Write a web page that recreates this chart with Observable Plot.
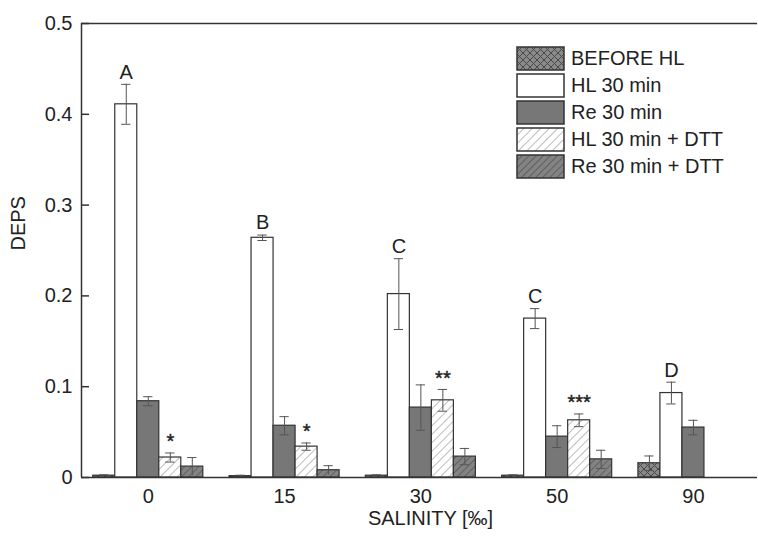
<!DOCTYPE html>
<html><head><meta charset="utf-8">
<script src="https://cdn.jsdelivr.net/npm/d3@7"></script>
<script src="https://cdn.jsdelivr.net/npm/@observablehq/plot@0.6"></script>
<style>
body{margin:0;background:#fff;}
#wrap{position:relative;width:758px;height:537px;font-family:"Liberation Sans",Arial,sans-serif;}
#legend{position:absolute;left:516px;top:45px;}
.row{display:flex;align-items:center;height:27px;font-size:20px;color:#222;white-space:nowrap;}
.row svg{margin-right:6px;display:block;}
</style></head><body>
<svg width="0" height="0" style="position:absolute">
<defs>
<pattern id="cross" patternUnits="userSpaceOnUse" width="7" height="7">
<rect width="7" height="7" fill="#8a8a8a"/>
<path d="M0,0L7,7M7,0L0,7" stroke="#4a4a4a" stroke-width="1"/>
</pattern>
<pattern id="hatchLight" patternUnits="userSpaceOnUse" width="6" height="6" patternTransform="rotate(45)">
<rect width="6" height="6" fill="#fff"/>
<line x1="0" y1="0" x2="0" y2="6" stroke="#9a9a9a" stroke-width="1.3"/>
</pattern>
<pattern id="hatchDark" patternUnits="userSpaceOnUse" width="5" height="5" patternTransform="rotate(45)">
<rect width="5" height="5" fill="#838383"/>
<line x1="0" y1="0" x2="0" y2="5" stroke="#4f4f4f" stroke-width="1.3"/>
</pattern>
</defs>
</svg>
<div id="wrap"><div id="legend"></div></div>
<script>
const salinity = ["0", "15", "30", "50", "90"];
const series = ["BEFORE HL", "HL 30 min", "Re 30 min", "HL 30 min + DTT", "Re 30 min + DTT"];
const beforeHL    = [0.002, 0.0015, 0.002, 0.002, 0.0157];
const beforeHLErr = [0.001, 0.001, 0.001, 0.001, 0.008];
const hl30        = [0.411, 0.264, 0.202, 0.175, 0.093];
const hl30Err     = [0.022, 0.003, 0.039, 0.011, 0.012];
const re30        = [0.084, 0.057, 0.077, 0.045, 0.055];
const re30Err     = [0.005, 0.010, 0.025, 0.012, 0.008];
const hlDtt       = [0.022, 0.034, 0.085, 0.063, null];
const hlDttErr    = [0.005, 0.004, 0.012, 0.007, null];
const reDtt       = [0.012, 0.008, 0.023, 0.020, null];
const reDttErr    = [0.010, 0.005, 0.009, 0.010, null];
const letters = ["A", "B", "C", "C", "D"];
const stars = ["*", "*", "**", "***", ""];
const yTicks = [0, 0.1, 0.2, 0.3, 0.4, 0.5];

const values = [beforeHL, hl30, re30, hlDtt, reDtt];
const errors = [beforeHLErr, hl30Err, re30Err, hlDttErr, reDttErr];
const fills = ["url(#cross)", "#ffffff", "#777777", "url(#hatchLight)", "url(#hatchDark)"];

const bw = 0.1615;      // bar width in group units
const cap = 0.034;      // half cap width
const xDomain = [-0.49, 4.47];

const rows = [];
salinity.forEach((g, gi) => series.forEach((s, si) => {
  const v = values[si][gi];
  if (v == null) return;
  rows.push({g: gi, s: si, v, e: errors[si][gi], c: gi + (si - 2) * bw});
}));

const barMarks = series.map((s, si) => Plot.rect(rows.filter(r => r.s === si), {
  x1: r => r.c - bw / 2, x2: r => r.c + bw / 2, y1: 0, y2: "v",
  fill: fills[si], stroke: "#333", strokeWidth: 1.2
}));

const hlRows = rows.filter(r => r.s === 1);
const dttRows = rows.filter(r => r.s === 3);

const plot = Plot.plot({
  width: 758, height: 537,
  marginLeft: 81, marginRight: 1, marginTop: 23, marginBottom: 60,
  style: {fontFamily: "Liberation Sans, Arial, sans-serif", fontSize: "20px", color: "#222", background: "transparent"},
  x: {domain: xDomain, axis: null},
  y: {domain: [0, 0.5], axis: null},
  marks: [
    ...barMarks,
    Plot.ruleX(rows, {x: "c", y1: r => Math.max(0, r.v - r.e), y2: r => r.v + r.e, stroke: "#555", strokeWidth: 1}),
    Plot.ruleY(rows, {y: r => r.v + r.e, x1: r => r.c - cap, x2: r => r.c + cap, stroke: "#555", strokeWidth: 1}),
    Plot.ruleY(rows.filter(r => r.v - r.e > 0.004), {y: r => r.v - r.e, x1: r => r.c - cap, x2: r => r.c + cap, stroke: "#555", strokeWidth: 1}),
    Plot.text(hlRows, {x: "c", y: r => r.v + r.e, text: r => letters[r.g], dy: -12, fontSize: 20, fill: "#222"}),
    Plot.text(dttRows, {x: "c", y: r => r.v + r.e, text: r => stars[r.g], dy: -11, fontSize: 20, fill: "#222", stroke: "#222", strokeWidth: 0.4}),
    Plot.ruleY([0, 0.5], {stroke: "#333", strokeWidth: 1.5}),
    Plot.ruleX([xDomain[0]], {y1: 0, y2: 0.5, stroke: "#333", strokeWidth: 1.5}),
    Plot.axisY({ticks: yTicks, tickSize: -8, tickPadding: 17, tickFormat: d => d === 0 ? "0" : d3.format(".1f")(d), label: null, stroke: "#333", strokeWidth: 1.5, fontSize: 20}),
    Plot.axisX({ticks: salinity.map((_, i) => i), tickFormat: i => salinity[i], tickSize: 0, tickPadding: 11, label: null, fontSize: 20}),
    Plot.text(["DEPS"], {frameAnchor: "left", rotate: -90, dx: -63, fontSize: 20, fill: "#222"}),
    Plot.text(["SALINITY [‰]"], {frameAnchor: "bottom", dy: 47, dx: 11, fontSize: 20, fill: "#222"})
  ]
});
document.getElementById("wrap").prepend(plot);

const legend = document.getElementById("legend");
series.forEach((s, si) => {
  const row = document.createElement("div");
  row.className = "row";
  row.innerHTML = `<svg width="49" height="25"><rect x="1" y="1" width="47" height="23" fill="${fills[si]}" stroke="#333" stroke-width="1.5"/></svg><span>${s}</span>`;
  legend.appendChild(row);
});
</script>
</body></html>
